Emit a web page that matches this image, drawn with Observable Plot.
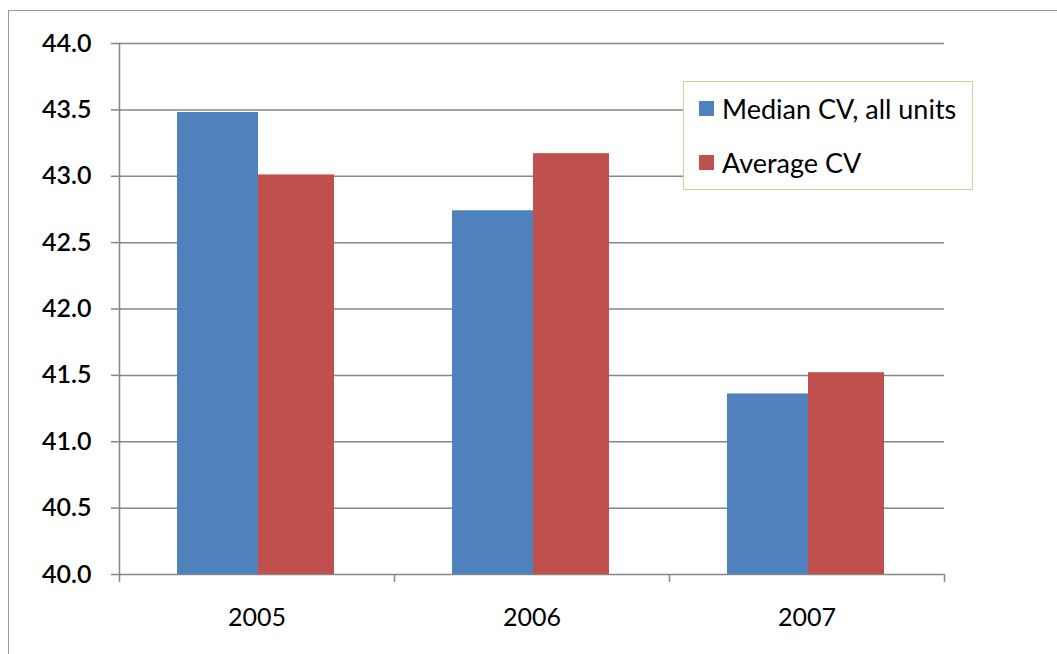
<!DOCTYPE html>
<html>
<head>
<meta charset="utf-8">
<script src="https://cdn.jsdelivr.net/npm/d3@7"></script>
<script src="https://cdn.jsdelivr.net/npm/@observablehq/plot@0.6"></script>
<style>
  html, body { margin: 0; padding: 0; background: #fff; overflow: hidden; }
  #wrap { position: relative; width: 1057px; height: 654px; }
  #border { position: absolute; left: 8px; top: 10px; width: 1100px; height: 700px; border: 1.5px solid #9a9a9a; box-sizing: border-box; }
  #chart { position: absolute; left: 0; top: 0; }
  #legend { position: absolute; left: 683px; top: 81px; width: 290px; height: 109px; border: 1.5px solid #c3d69b; box-sizing: border-box; background: #fff; font-family: Lato, "Open Sans", sans-serif; font-size: 27px; color: #000; }
  .item { position: absolute; left: 15px; display: flex; align-items: center; white-space: nowrap; }
  .sw { width: 15px; height: 15px; margin-right: 8px; }
</style>
</head>
<body>
<div id="wrap">
  <div id="border"></div>
  <div id="chart"></div>
  <div id="legend"></div>
</div>
<script>
const years = ["2005", "2006", "2007"];
const seriesNames = ["Median CV, all units", "Average CV"];
const medianCV = [43.48, 42.74, 41.36];
const averageCV = [43.01, 43.17, 41.52];
const colors = ["#4f81bd", "#c0504d"];
const yTicks = [40.0, 40.5, 41.0, 41.5, 42.0, 42.5, 43.0, 43.5, 44.0];

const medianData = years.map((y, i) => ({year: y, value: medianCV[i]}));
const averageData = years.map((y, i) => ({year: y, value: averageCV[i]}));

const plot = Plot.plot({
  width: 1057,
  height: 654,
  marginLeft: 119,
  marginRight: 113,
  marginTop: 43,
  marginBottom: 80,
  style: {background: "transparent", fontFamily: "Lato, 'Open Sans', sans-serif", fontSize: "24px", color: "#000"},
  x: {domain: years, padding: 0, label: null},
  y: {domain: [40, 44], label: null},
  marks: [
    Plot.gridY(yTicks, {stroke: "#868686", strokeOpacity: 1, strokeWidth: 1.5}),
    Plot.barY(medianData, {x: "year", y1: 40, y2: "value", fill: colors[0], insetLeft: 58, insetRight: 136}),
    Plot.barY(averageData, {x: "year", y1: 40, y2: "value", fill: colors[1], insetLeft: 139, insetRight: 60}),
    Plot.frame({anchor: "left", stroke: "#868686", strokeWidth: 1.5}),
    Plot.axisY({ticks: yTicks, tickFormat: d3.format(".1f"), tickSize: 8, tickPadding: 20, stroke: "#868686", strokeWidth: 1.5, fontWeight: 600, fontSize: 25, label: null}),
    Plot.axisX({tickSize: 0, tickPadding: 34, fontSize: 25, label: null, style: {letterSpacing: "1px"}}),
    Plot.ruleX(years, {x: d => d, dx: -137.5, y1: 40, y2: 40, insetBottom: -8, stroke: "#868686", strokeWidth: 1.5}),
    Plot.ruleX([years[years.length - 1]], {x: d => d, dx: 137.5, y1: 40, y2: 40, insetBottom: -8, stroke: "#868686", strokeWidth: 1.5})
  ]
});
document.getElementById("chart").appendChild(plot);

const legend = document.getElementById("legend");
seriesNames.forEach((name, i) => {
  const div = document.createElement("div");
  div.className = "item";
  div.style.top = (i === 0 ? 10 : 64) + "px";
  div.innerHTML = `<span class="sw" style="background:${colors[i]}"></span><span>${name}</span>`;
  legend.appendChild(div);
});
</script>
</body>
</html>
